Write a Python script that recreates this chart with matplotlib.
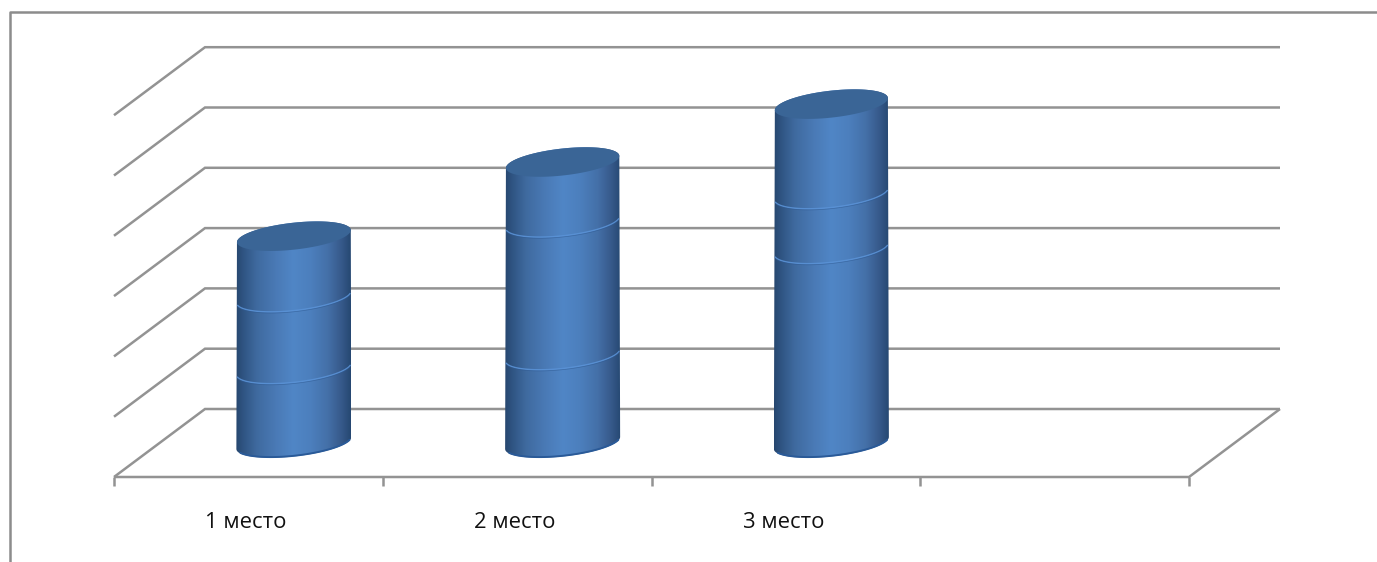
import numpy as np
import matplotlib
matplotlib.use("Agg")
import matplotlib.pyplot as plt
from matplotlib.colors import LinearSegmentedColormap
from matplotlib.patches import Polygon

categories = ["1 место", "2 место", "3 место", ""]
series_a = [1.23, 1.46, 3.22]
series_b = [1.19, 2.20, 0.91]
series_c = [1.01, 1.00, 1.49]
y_levels = [0, 1, 2, 3, 4, 5, 6]

W, H = 1377, 562
PX_X = 268.75      # pixels per category
PX_Y = 60.3        # pixels per value unit
X0, Y0 = 114, 443  # pixel of category edge 0 / value 0 at bar-centre depth
DX = 91 / PX_X     # full depth, category units
DY = 68 / PX_Y     # full depth, value units
GREY = "#939393"
LW = 1.8

plt.rcParams["font.family"] = ["Open Sans", "DejaVu Sans"]
fig = plt.figure(figsize=(W / 100, H / 100), dpi=100)
ax = fig.add_axes([0, 0, 1, 1])
xlim = (-X0 / PX_X, (W - X0) / PX_X)
ylim = ((Y0 - H) / PX_Y, Y0 / PX_Y)
ax.axis("off")

# outer frame
fr = ax.transAxes
ax.plot([9.5 / W, 9.5 / W, 1], [0, 1 - 11.5 / H, 1 - 11.5 / H], transform=fr, color="#8c8c8c", lw=1.8, clip_on=False)

n = len(categories)
front = -DY / 2   # value coordinate of front edge at level 0
back = DY / 2
for lv in y_levels:
    ax.plot([0, DX, n + DX], [front + lv, back + lv, back + lv], color=GREY, lw=LW, solid_joinstyle="miter", solid_capstyle="butt")
ax.plot([0, n, n + DX], [front, front, back], color=GREY, lw=LW, solid_joinstyle="miter", solid_capstyle="butt")
for i in range(n + 1):
    ax.plot([i, i], [front, front - 9 / PX_Y], color=GREY, lw=LW, solid_capstyle="butt")

for i, lab in enumerate(categories):
    if lab:
        ax.text(i + 0.49, (Y0 - 522) / PX_Y, lab, ha="center", va="center", fontsize=15.8, color="#111111")

cmap = LinearSegmentedColormap.from_list("cyl", [
    (0.00, "#27476f"), (0.06, "#2f5482"), (0.18, "#3f6a9f"), (0.35, "#4a7ab6"), (0.50, "#5086c6"),
    (0.65, "#4c7fbd"), (0.80, "#4470a8"), (0.92, "#36598a"), (1.00, "#264872")])
grad = np.linspace(0, 1, 256)[None, :]

A = 57.5 / PX_X    # half width
S = 6.0 / PX_Y     # tilt
B = 13.5 / PX_Y    # half minor axis
t = np.linspace(0, 2 * np.pi, 121)


def half_w(v):
    return A * (1 - 0.0030 * v)


def ell(cx, v, tt):
    return cx + half_w(v) * np.cos(tt), v + S * np.cos(tt) + B * np.sin(tt)


for i, (a, b, c) in enumerate(zip(series_a, series_b, series_c)):
    cx = i + 0.5 + DX / 2
    levels = np.cumsum([0, a, b, c])
    tb = np.linspace(np.pi, 2 * np.pi, 61)
    tt = np.linspace(0, np.pi, 61)
    xb, yb = ell(cx, levels[0], tb)
    xt, yt = ell(cx, levels[-1], tt)
    poly = Polygon(np.column_stack([np.r_[xb, xt], np.r_[yb, yt]]), closed=True,
                   facecolor="none", edgecolor="none", transform=ax.transData)
    ax.add_patch(poly)
    hw = half_w(0)
    im = ax.imshow(grad, extent=[cx - hw, cx + hw, levels[0] - B - S, levels[-1] + B + S],
                   aspect="auto", cmap=cmap, vmin=0, vmax=1, zorder=3, interpolation="bilinear")
    im.set_clip_path(poly)
    # darker rim along the base
    tr = np.linspace(1.12 * np.pi, 1.92 * np.pi, 50)
    xr, yr = ell(cx, levels[0], tr)
    ax.plot(xr, yr + 0.7 / PX_Y, color="#2a5a98", lw=1.4, zorder=4, solid_capstyle="round")
    # joints between segments
    tj = np.linspace(1.06 * np.pi, 1.94 * np.pi, 50)
    for lv in levels[1:-1]:
        xj, yj = ell(cx, lv, tj)
        ax.plot(xj, yj, color="#5a92d6", lw=1.0, zorder=5, alpha=0.9)
        ax.plot(xj, yj - 1.2 / PX_Y, color="#2f5a92", lw=0.5, zorder=5, alpha=0.6)
    # top cap
    xc, yc = ell(cx, levels[-1], t)
    ax.fill(xc, yc, color="#3a6596", zorder=6, lw=0)

ax.set_xlim(*xlim)
ax.set_ylim(*ylim)
fig.savefig("out.png", dpi=100, facecolor="white")
